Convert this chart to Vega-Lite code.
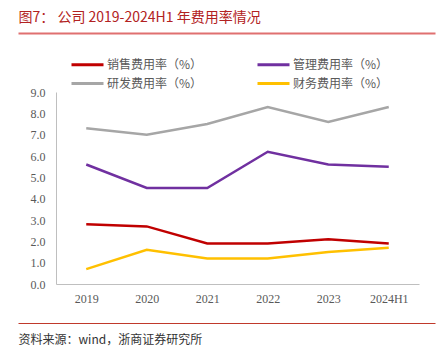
{
  "$schema": "https://vega.github.io/schema/vega-lite/v6.json",
  "autosize": "none",
  "width": 363,
  "height": 192,
  "padding": {"left": 56, "top": 92, "right": 26, "bottom": 72},
  "background": "white",
  "config": {
    "view": {"stroke": null},
    "axis": {"labelFont": "Liberation Serif", "labelFontSize": 12, "labelColor": "#595959", "domainColor": "#BFBFBF", "ticks": false, "grid": false}
  },
  "data": {
    "values": [
      {"year": "2019", "series": "销售费用率（%）", "value": 2.8},
      {"year": "2020", "series": "销售费用率（%）", "value": 2.7},
      {"year": "2021", "series": "销售费用率（%）", "value": 1.9},
      {"year": "2022", "series": "销售费用率（%）", "value": 1.9},
      {"year": "2023", "series": "销售费用率（%）", "value": 2.1},
      {"year": "2024H1", "series": "销售费用率（%）", "value": 1.9},
      {"year": "2019", "series": "管理费用率（%）", "value": 5.6},
      {"year": "2020", "series": "管理费用率（%）", "value": 4.5},
      {"year": "2021", "series": "管理费用率（%）", "value": 4.5},
      {"year": "2022", "series": "管理费用率（%）", "value": 6.2},
      {"year": "2023", "series": "管理费用率（%）", "value": 5.6},
      {"year": "2024H1", "series": "管理费用率（%）", "value": 5.5},
      {"year": "2019", "series": "研发费用率（%）", "value": 7.3},
      {"year": "2020", "series": "研发费用率（%）", "value": 7.0},
      {"year": "2021", "series": "研发费用率（%）", "value": 7.5},
      {"year": "2022", "series": "研发费用率（%）", "value": 8.3},
      {"year": "2023", "series": "研发费用率（%）", "value": 7.6},
      {"year": "2024H1", "series": "研发费用率（%）", "value": 8.3},
      {"year": "2019", "series": "财务费用率（%）", "value": 0.7},
      {"year": "2020", "series": "财务费用率（%）", "value": 1.6},
      {"year": "2021", "series": "财务费用率（%）", "value": 1.2},
      {"year": "2022", "series": "财务费用率（%）", "value": 1.2},
      {"year": "2023", "series": "财务费用率（%）", "value": 1.5},
      {"year": "2024H1", "series": "财务费用率（%）", "value": 1.7}
    ]
  },
  "layer": [
    {
      "mark": {"type": "line", "strokeWidth": 2.5},
      "encoding": {
        "x": {"field": "year", "type": "ordinal", "scale": {"padding": 0.5},
              "axis": {"orient": "bottom", "title": null, "labelAngle": 0, "labelPadding": 9, "domainColor": "#BFBFBF"}},
        "y": {"field": "value", "type": "quantitative", "scale": {"domain": [0, 9], "nice": false},
              "axis": {"title": null, "values": [0,1,2,3,4,5,6,7,8,9], "format": ".1f", "labelPadding": 11}},
        "stroke": {"field": "series", "type": "nominal",
          "scale": {"domain": ["销售费用率（%）", "管理费用率（%）", "研发费用率（%）", "财务费用率（%）"],
                    "range": ["#C00000", "#7030A0", "#A6A6A6", "#FFC000"]},
          "legend": {"title": null, "orient": "none", "legendX": 22, "legendY": -37, "columns": 2, "direction": "horizontal",
                     "symbolType": "M-2,0H2", "symbolSize": 256, "symbolStrokeWidth": 3,
                     "columnPadding": 48, "rowPadding": 3, "labelFont": "Noto Sans CJK SC",
                     "labelFontSize": 12, "labelColor": "#595959", "labelOffset": 10, "padding": 0, "labelLimit": 200}}
      }
    },
    {
      "mark": {"type": "rule", "opacity": 0},
      "encoding": {
        "x": {"field": "year", "type": "ordinal", "scale": {"range": [-38, 379]},
              "axis": {"orient": "top", "offset": 59, "labels": false, "ticks": false, "domainColor": "#E07070", "domainWidth": 2,
                       "title": "图7：  公司 2019-2024H1 年费用率情况", "titleX": -38, "titleY": -16, "titleAlign": "left",
                       "titleBaseline": "middle", "titleAnchor": null, "titleFont": "Noto Sans CJK SC", "titleFontSize": 14,
                       "titleFontWeight": "normal", "titleColor": "#B22222", "titleAngle": 0}}
      }
    },
    {
      "mark": {"type": "rule", "opacity": 0},
      "encoding": {
        "x": {"field": "year", "type": "ordinal", "scale": {"range": [-38, 379]},
              "axis": {"orient": "bottom", "offset": 39, "labels": false, "ticks": false, "domainColor": "#C0392B", "domainWidth": 1,
                       "title": "资料来源：wind，浙商证券研究所", "titleX": -38, "titleY": 16, "titleAlign": "left",
                       "titleBaseline": "middle", "titleAnchor": null, "titleFont": "Noto Sans CJK SC", "titleFontSize": 12,
                       "titleFontWeight": "normal", "titleColor": "#333333", "titleAngle": 0}}
      }
    }
  ],
  "resolve": {"scale": {"x": "independent"}, "axis": {"x": "independent"}}
}
